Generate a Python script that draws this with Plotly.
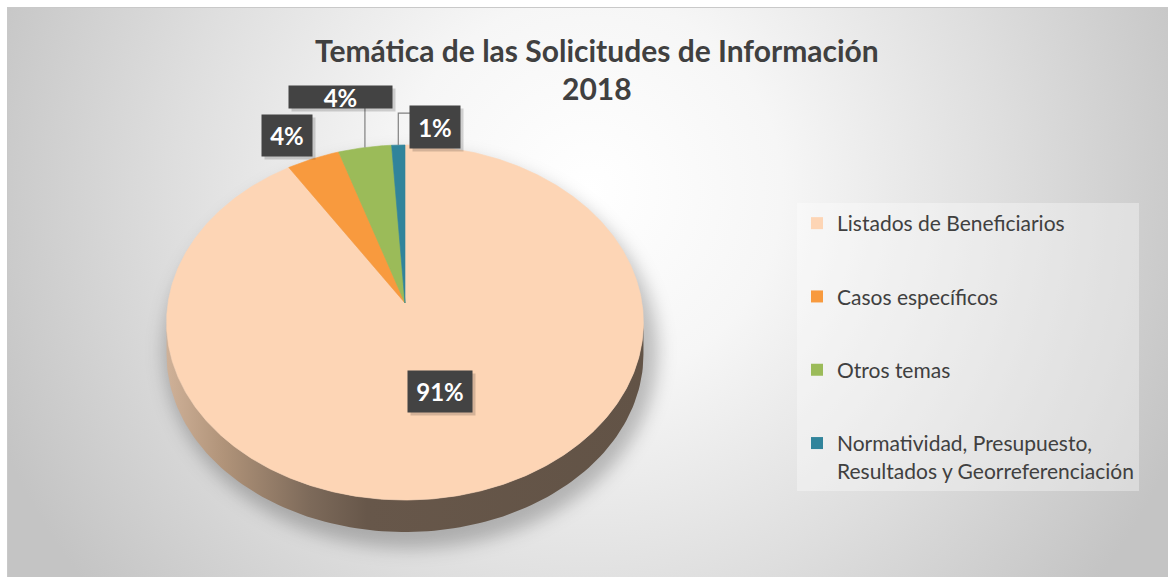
import math
import base64
import numpy as np
import plotly.graph_objects as go

# ---- data -------------------------------------------------------------
categories = [
    "Listados de Beneficiarios",
    "Casos específicos",
    "Otros temas",
    "Normatividad, Presupuesto,<br>Resultados y Georreferenciación",
]
percentages = [91, 4, 4, 1]
title_lines = ["Temática de las Solicitudes de Información", "2018"]

# ---- styling ----------------------------------------------------------
slice_colors = ["#FDD5B5", "#F89A3E", "#9BBB59", "#31849B"]
text_color = "#404040"
label_bg = "#434343"
FONT = "Lato"

W, H = 1168, 577

# 3-D pie geometry (pixel space)
CX, CY = 405, 303          # apex of the slices
RX, RY = 237, 175.4        # radii of the top face
PERSP = 0.11               # perspective foreshortening of the far side
DEPTH = 32                 # thickness of the disc


def project(theta_deg, r=1.0, drop=0.0):
    """Angle measured clockwise from 12 o'clock -> screen position."""
    t = math.radians(theta_deg)
    u, v = r * math.sin(t), -r * math.cos(t)
    d = 1 - PERSP * v
    return CX + RX * u / d, CY + RY * v / d + drop


def arc(a0, a1, r=1.0, drop=0.0, n=120):
    pts = [project(a, r, drop) for a in np.linspace(a0, a1, n)]
    return [p[0] for p in pts], [p[1] for p in pts]


total = float(sum(percentages))
spans = [360.0 * p / total for p in percentages]
starts = list(np.cumsum([0.0] + spans[:-1]))
mids = [s + sp / 2 for s, sp in zip(starts, spans)]

# ---- background (gradient panel + soft shadow under the disc) ---------
px0, py0 = 7, 7
pw, ph = W - px0, H - py0
shadow_cx, shadow_cy = CX + 6 - px0, CY + 48 - py0
svg = f"""<svg xmlns='http://www.w3.org/2000/svg' width='{pw}' height='{ph}' viewBox='0 0 {pw} {ph}' preserveAspectRatio='none'>
<defs>
<radialGradient id='g' gradientUnits='userSpaceOnUse' cx='{590 - px0}' cy='{190 - py0}' r='640'>
<stop offset='0' stop-color='#ffffff'/>
<stop offset='0.30' stop-color='#f6f6f6'/>
<stop offset='0.65' stop-color='#dedede'/>
<stop offset='1' stop-color='#c4c4c4'/>
</radialGradient>
<filter id='b' x='-30%' y='-30%' width='160%' height='160%'><feGaussianBlur stdDeviation='9'/></filter>
</defs>
<rect x='0' y='0' width='{pw}' height='{ph}' fill='url(#g)'/>
<rect x='0.5' y='0.5' width='{pw + 5}' height='{ph + 5}' fill='none' stroke='#c9c9c9' stroke-width='1'/>
<ellipse cx='{shadow_cx}' cy='{shadow_cy}' rx='{RX + 10}' ry='{RY + 22}' fill='#000000' fill-opacity='0.24' filter='url(#b)'/>
</svg>"""
bg_uri = "data:image/svg+xml;base64," + base64.b64encode(svg.encode("utf-8")).decode()

fig = go.Figure()

# ---- side wall of the disc (visible front half) -----------------------
edge = math.degrees(math.acos(-PERSP))
tx, ty = arc(edge, 360 - edge)
bx, by = arc(360 - edge, edge, drop=DEPTH)
fig.add_trace(go.Scatter(
    x=tx + bx + [tx[0]], y=ty + by + [ty[0]],
    mode="lines", fill="toself", line=dict(width=0, color="#6a5a4c"),
    fillgradient=dict(type="horizontal", colorscale=[
        [0.0, "#cfb198"], [0.12, "#b09379"], [0.3, "#7d6a5a"],
        [0.42, "#67574a"], [1.0, "#625346"]]),
    hoverinfo="skip", showlegend=False,
))

# ---- top face slices --------------------------------------------------
for name, pct, s, sp, col in zip(categories, percentages, starts, spans, slice_colors):
    ax, ay = arc(s, s + sp, n=max(8, int(sp * 2)))
    fig.add_trace(go.Scatter(
        x=[CX] + ax + [CX], y=[CY] + ay + [CY],
        mode="lines", fill="toself", fillcolor=col,
        line=dict(width=0.6, color=col),
        name=name.replace("<br>", " "), text=f"{pct}%",
        hoveron="fills", hoverinfo="name+text",
        showlegend=False,
    ))

# ---- legend entries ---------------------------------------------------
for i, (name, col) in enumerate(zip(categories, slice_colors)):
    fig.add_trace(go.Scatter(
        x=[None], y=[None], mode="markers",
        marker=dict(symbol="square", size=12, color=col),
        name=name, legendgroup=f"g{i}", showlegend=True,
    ))

# ---- data labels ------------------------------------------------------
# per-slice: (placement, dx, dy, box width, box height)
label_layout = [
    ("inside", 0, 0, 64, 41),
    ("outside", -26, -23, 50, 41),
    ("outside", -24, -51, 103, 22),
    ("outside", 37, -18, 50, 42),
]

annotations = []
leader_x, leader_y = [], []
for i, (pct, mid) in enumerate(zip(percentages, mids)):
    place, dx, dy, bw, bh = label_layout[i]
    if place == "inside":
        lx, ly = project(mid, 0.5)
    else:
        rx_, ry_ = project(mid)
        lx, ly = rx_ + dx, ry_ + dy
        # leader line from the rim to the label box
        if abs(dx) < bw / 2:
            leader_x += [rx_, rx_, None]
            leader_y += [ry_, ly + bh / 2, None]
        elif lx - bw / 2 > rx_:
            yk = ly - bh / 2 + 7
            leader_x += [rx_, rx_, lx - bw / 2, None]
            leader_y += [ry_, yk, yk, None]
    # soft drop shadow, then the box itself
    annotations.append(dict(
        x=lx + 3, y=ly + 3, xref="x", yref="y", text=" ", showarrow=False,
        width=bw, height=bh, bgcolor="rgba(0,0,0,0.16)", borderpad=0,
    ))
    annotations.append(dict(
        x=lx, y=ly, xref="x", yref="y", text=f"<b>{pct}%</b>", showarrow=False,
        width=bw, height=bh, bgcolor=label_bg, borderpad=0, align="center",
        valign="middle", font=dict(family=FONT, size=24, color="#ffffff"),
    ))

fig.add_trace(go.Scatter(
    x=leader_x, y=leader_y, mode="lines",
    line=dict(color="#808080", width=1.2), hoverinfo="skip", showlegend=False,
))

# ---- title ------------------------------------------------------------
for line, ty_ in zip(title_lines, [50, 88]):
    annotations.append(dict(
        x=597, y=ty_, xref="x", yref="y", text=f"<b>{line}</b>", showarrow=False,
        font=dict(family=FONT, size=30, color=text_color),
        xanchor="center", yanchor="middle",
    ))

fig.update_layout(
    width=W, height=H,
    margin=dict(l=0, r=0, t=0, b=0),
    paper_bgcolor="#ffffff", plot_bgcolor="rgba(0,0,0,0)",
    xaxis=dict(range=[0, W], visible=False, fixedrange=True),
    yaxis=dict(range=[H, 0], visible=False, fixedrange=True),
    images=[dict(
        source=bg_uri, xref="paper", yref="paper",
        x=px0 / W, y=1 - py0 / H, sizex=pw / W, sizey=ph / H,
        xanchor="left", yanchor="top", sizing="stretch", layer="below",
    )],
    annotations=annotations,
    legend=dict(
        x=797 / W, y=1 - 203 / H, xanchor="left", yanchor="top",
        bgcolor="rgba(255,255,255,0.35)", borderwidth=0,
        font=dict(family=FONT, size=21, color=text_color),
        tracegroupgap=43, traceorder="grouped", valign="top",
        itemsizing="constant",
    ),
    showlegend=True,
    hovermode="closest",
)

fig.write_html("out.html")
